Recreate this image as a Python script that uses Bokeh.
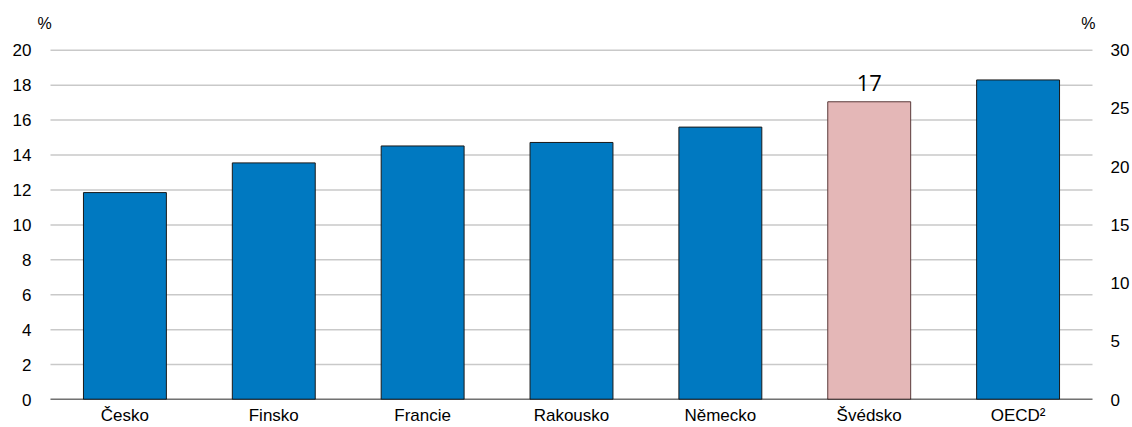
from bokeh.plotting import figure
from bokeh.models import Range1d, LinearAxis, Label, FixedTicker, ColumnDataSource, FactorRange
from bokeh.embed import file_html
from bokeh.resources import INLINE

countries = ["Česko", "Finsko", "Francie", "Rakousko", "Německo", "Švédsko", "OECD²"]
values = [11.85, 13.55, 14.52, 14.72, 15.6, 17.05, 18.3]
colors = ["#0079C1", "#0079C1", "#0079C1", "#0079C1", "#0079C1", "#E4B7B7", "#0079C1"]
outlines = ["#1a1a1a", "#1a1a1a", "#1a1a1a", "#1a1a1a", "#1a1a1a", "#5a3a3a", "#1a1a1a"]
left_ticks = [0, 2, 4, 6, 8, 10, 12, 14, 16, 18, 20]
right_ticks = [0, 5, 10, 15, 20, 25, 30]
highlight_label = "17"

FONT = "Liberation Sans"
Y_TOP = 22.85   # headroom above 20 for the unit markers
PAD = 0.094     # side room (in category widths) for the unit markers

x_range = FactorRange(factors=countries, range_padding=PAD, range_padding_units="absolute")
p = figure(x_range=x_range, y_range=Range1d(0, Y_TOP), width=1132, height=427,
           output_backend="svg", toolbar_location=None,
           min_border_left=36, min_border_right=25, min_border_top=0, min_border_bottom=26)
p.outline_line_color = None
p.background_fill_color = "white"
p.border_fill_color = "white"
p.grid.visible = False

n = len(countries)

# horizontal gridlines spanning the category area only
p.segment(x0=[0] * len(left_ticks), x1=[n] * len(left_ticks), y0=left_ticks, y1=left_ticks,
          line_color="#c9c9c9", line_width=1.5)

src = ColumnDataSource(dict(x=countries, top=values, color=colors, line=outlines))
p.vbar(x="x", top="top", width=0.557, source=src, fill_color="color",
       line_color="line", line_width=1)

# baseline
p.segment(x0=[0], x1=[n], y0=[0], y1=[0], line_color="#000000", line_width=1.6)


def style_axis(ax, standoff):
    ax.axis_line_color = None
    ax.major_tick_line_color = None
    ax.minor_tick_line_color = None
    ax.major_tick_out = 0
    ax.major_tick_in = 0
    ax.minor_tick_out = 0
    ax.minor_tick_in = 0
    ax.major_label_text_font = FONT
    ax.major_label_text_font_size = "17px"
    ax.major_label_text_color = "#000000"
    ax.major_label_standoff = standoff


yax = p.yaxis[0]
yax.ticker = FixedTicker(ticks=left_ticks)
style_axis(yax, 5)

xax = p.xaxis[0]
style_axis(xax, 6)

p.extra_y_ranges = {"right": Range1d(0, Y_TOP * 1.5)}
rax = LinearAxis(y_range_name="right", ticker=FixedTicker(ticks=right_ticks))
style_axis(rax, 4)
p.add_layout(rax, "right")

# unit markers above both axes
p.add_layout(Label(x=-0.04, y=21.54, text="%", text_font=FONT, text_font_size="16px",
                   text_align="center", text_baseline="middle", text_color="#000000"))
p.add_layout(Label(x=6.973, y=21.54, text="%", text_font=FONT, text_font_size="16px",
                   text_align="center", text_baseline="middle", text_color="#000000"))

# value label above highlighted bar
p.add_layout(Label(x=5.5, y=values[5] + 1.08, text=highlight_label, text_font="Open Sans",
                   text_font_size="22px", text_align="center", text_baseline="alphabetic",
                   text_color="#000000"))

open("out.html", "w").write(file_html(p, INLINE))
